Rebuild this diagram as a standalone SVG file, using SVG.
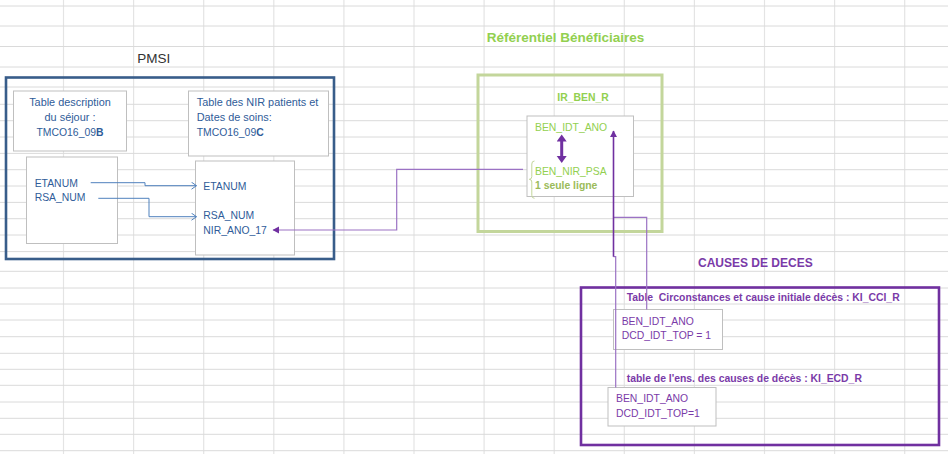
<svg xmlns="http://www.w3.org/2000/svg" width="948" height="454" viewBox="0 0 948 454">
<style>
.gh{stroke:#dadada;stroke-width:1;fill:none}
.gv{stroke:#e4e4e4;stroke-width:1.2;fill:none}
.tbl{fill:#ffffff;stroke:#bfbfbf;stroke-width:1}
.t{font-family:"Liberation Sans",Arial,sans-serif;font-size:10.4px}
.tm{font-family:"Liberation Sans",Arial,sans-serif;font-size:10.9px}
.blue{fill:#2f5c99}
.green{fill:#92d050}
.olive{fill:#9bbb59}
.purp{fill:#7a3aa8}
.b{font-weight:bold}
.title{font-family:"Liberation Sans",Arial,sans-serif;font-size:13.5px}
.bl{stroke:#4f81bd;stroke-width:1;fill:none}
.pl{stroke:#9b72c4;stroke-width:1.2;fill:none}
.pd{stroke:#7030a0;stroke-width:1.6;fill:none}
</style>
<defs>
<marker id="openB" markerWidth="8" markerHeight="8" refX="6" refY="4" orient="auto" markerUnits="userSpaceOnUse">
<path d="M1,0.5 L6,4 L1,7.5" fill="none" stroke="#4f81bd" stroke-width="1"/>
</marker>
<marker id="triP" markerWidth="8" markerHeight="8" refX="6" refY="4" orient="auto" markerUnits="userSpaceOnUse">
<path d="M0,0.5 L6.5,4 L0,7.5 Z" fill="#7030a0"/>
</marker>
<marker id="triBig" markerWidth="12" markerHeight="12" refX="1" refY="5" orient="auto-start-reverse" markerUnits="userSpaceOnUse">
<path d="M0,0 L7,5 L0,10 Z" fill="#7030a0"/>
</marker>
</defs>
<rect width="948" height="454" fill="#ffffff"/>
<g id="grid">
<path class="gv" d="M63.5,0V454M133.6,0V454M203.7,0V454M273.8,0V454M343.9,0V454M414,0V454M484.1,0V454M554.2,0V454M624.3,0V454M694.4,0V454M764.5,0V454M834.6,0V454M904.7,0V454"/>
<path class="gh" d="M0,6H948M0,26H948M0,46.5H948M0,67H948M0,87H948M0,104.3H948M0,120.7H948M0,137H948M0,153.4H948M0,169.7H948M0,186H948M0,202.4H948M0,218.7H948M0,235H948M0,251.6H948M0,271.3H948M0,288H948M0,304H948M0,320H948M0,336.7H948M0,353.3H948M0,369.3H948M0,385.3H948M0,402H948M0,418.3H948M0,434.3H948M0,450.7H948"/>
</g>
<g id="pmsi">
<text class="title" x="137.3" y="63" fill="#333333">PMSI</text>
<rect x="6" y="77.5" width="328" height="181.5" fill="none" stroke="#385d8a" stroke-width="2.6"/>
</g>
<g id="tmco09b-desc">
<rect class="tbl" x="13.5" y="91" width="113" height="60"/>
<text class="tm blue" x="70" y="106" text-anchor="middle">Table description</text>
<text class="tm blue" x="70" y="121" text-anchor="middle">du séjour :</text>
<text class="t blue" x="70" y="135.5" text-anchor="middle">TMCO16_09<tspan class="b">B</tspan></text>
</g>
<g id="tmco09c-desc">
<rect class="tbl" x="188.5" y="91" width="140" height="65"/>
<text class="tm blue" x="196.7" y="106">Table des NIR patients et</text>
<text class="tm blue" x="196.7" y="121">Dates de soins:</text>
<text class="t blue" x="196.7" y="135.5">TMCO16_09<tspan class="b">C</tspan></text>
</g>
<g id="tmco09b">
<rect class="tbl" x="26.5" y="157" width="91" height="86.5"/>
<text class="t blue" x="34.7" y="187">ETANUM</text>
<text class="t blue" x="34.7" y="201">RSA_NUM</text>
</g>
<g id="tmco09c">
<rect class="tbl" x="195.5" y="161" width="99" height="94"/>
<text class="t blue" x="203.3" y="189.8">ETANUM</text>
<text class="t blue" x="203.3" y="219">RSA_NUM</text>
<text class="t blue" x="203.3" y="233.8">NIR_ANO_17</text>
</g>
<g id="referentiel">
<text class="title b green" x="486.7" y="42">Référentiel Bénéficiaires</text>
<rect x="478" y="75" width="184" height="156.5" fill="none" stroke="#c3d69b" stroke-width="3"/>
<text class="t b green" x="557.3" y="101">IR_BEN_R</text>
</g>
<g id="ir_ben_r">
<rect class="tbl" x="527" y="116" width="106.5" height="80.5"/>
<text class="t green" x="535" y="131">BEN_IDT_ANO</text>
<text class="t green" x="535" y="174.5">BEN_NIR_PSA</text>
<text class="t b olive" x="535" y="189">1 seule ligne</text>
<path d="M534.5,161 Q531.8,161 531.8,164 L531.8,176.5 Q531.8,179.3 529.3,179.3 Q531.8,179.3 531.8,182 L531.8,195.3 Q531.8,198.3 534.5,198.3" fill="none" stroke="#c3d69b" stroke-width="1"/>
</g>
<g id="causes">
<text class="t b purp" x="698" y="266.8" style="font-size:12px">CAUSES DE DECES</text>
<rect x="581" y="287.5" width="358" height="157.5" fill="none" stroke="#7030a0" stroke-width="2.6"/>
<text class="t b purp" x="626.7" y="300.5" xml:space="preserve">Table  Circonstances et cause initiale décès : KI_CCI_R</text>
<text class="t b purp" x="626.7" y="382">table de l'ens. des causes de décès : KI_ECD_R</text>
</g>
<g id="ki_cci_r">
<rect class="tbl" x="613.5" y="309.5" width="109" height="40"/>
<text class="t purp" x="621.7" y="324.5">BEN_IDT_ANO</text>
<text class="t purp" x="621.7" y="338.8">DCD_IDT_TOP = 1</text>
</g>
<g id="ki_ecd_r">
<rect class="tbl" x="608" y="387.5" width="108" height="38.5"/>
<text class="t purp" x="616" y="402">BEN_IDT_ANO</text>
<text class="t purp" x="616" y="417">DCD_IDT_TOP=1</text>
</g>
<g id="connectors">
<path class="bl" d="M90.7,182.7 H145 V185.7 H196.5" marker-end="url(#openB)"/>
<path class="bl" d="M98.3,198.3 H149 V216.7 H196.5" marker-end="url(#openB)"/>
<path class="pl" d="M523,169.3 H396.7 V230 H273" marker-end="url(#triP)"/>
<path d="M561.7,140.5 V157" stroke="#7030a0" stroke-width="3" fill="none" marker-start="url(#triBig)" marker-end="url(#triBig)"/>
<path class="pl" d="M615.7,387.5 V256.7 H613.5"/>
<path class="pl" d="M646.7,309.5 V217.3 H613.5"/>
<path class="pd" d="M613.5,256.7 V131" marker-end="url(#triP)"/>
</g>
</svg>
